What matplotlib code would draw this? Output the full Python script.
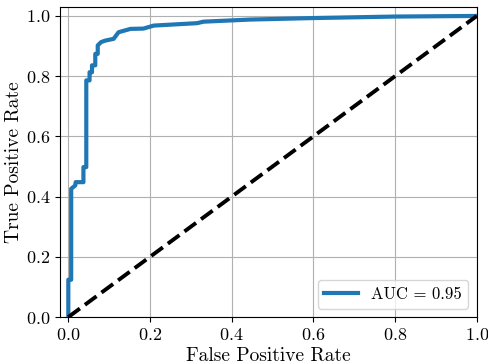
import matplotlib
matplotlib.use("Agg")
import matplotlib.pyplot as plt

plt.rcParams['font.family'] = ['cmr10', 'DejaVu Serif']
plt.rcParams['mathtext.fontset'] = 'cm'
plt.rcParams['axes.formatter.use_mathtext'] = True

fpr = [0.0, 0.0, 0.007, 0.007, 0.017, 0.018, 0.037, 0.037, 0.044, 0.044,
       0.052, 0.052, 0.058, 0.058, 0.066, 0.066, 0.072, 0.072, 0.080, 0.090,
       0.111, 0.123, 0.147, 0.152, 0.184, 0.209, 0.262, 0.315, 0.331, 0.445,
       0.60, 0.80, 1.0]
tpr = [0.0, 0.124, 0.124, 0.426, 0.437, 0.448, 0.448, 0.498, 0.498, 0.786,
       0.786, 0.813, 0.813, 0.836, 0.836, 0.874, 0.874, 0.902, 0.913, 0.918,
       0.924, 0.946, 0.955, 0.957, 0.958, 0.968, 0.972, 0.976, 0.981, 0.988,
       0.993, 0.998, 1.0]
auc_label = "AUC = 0.95"

fig = plt.figure(figsize=(4.89, 3.64), dpi=100)
ax = fig.add_axes([0.123, 0.129, 0.852, 0.852])
ax.plot(fpr, tpr, color='#1f77b4', lw=3, label=auc_label)
ax.plot([0, 1], [0, 1], color='black', lw=2.8, linestyle='--')
ax.set_xlim(-0.02, 1.0)
ax.set_ylim(0.0, 1.03)
ax.grid(True, color='#b0b0b0', lw=0.8)
ax.set_xlabel('False Positive Rate', fontsize=14, labelpad=3)
ax.set_ylabel('True Positive Rate', fontsize=14, labelpad=2)
ax.tick_params(labelsize=13)
ax.legend(loc='lower right', fontsize=12)
fig.savefig('out.png', dpi=100)
